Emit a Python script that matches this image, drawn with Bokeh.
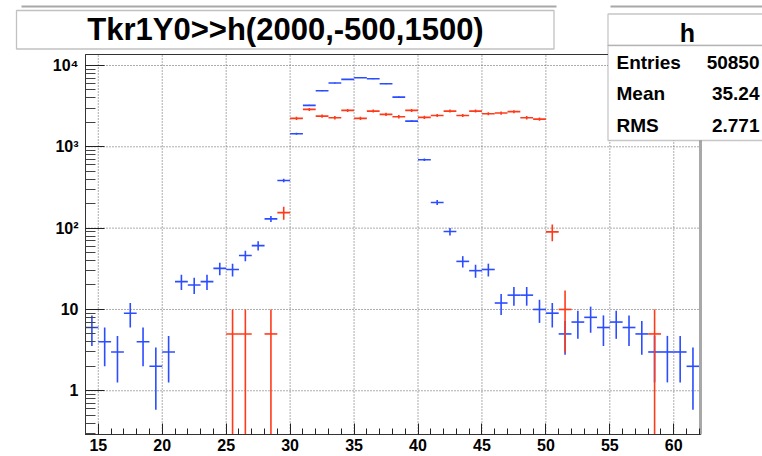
import numpy as np
from bokeh.plotting import figure
from bokeh.models import (FixedTicker, SingleIntervalTicker, Range1d, Label,
                          BoxAnnotation)
from bokeh.embed import file_html
from bokeh.resources import INLINE

# ---------------- data ----------------
blue_x = [14.5, 15.5, 16.5, 17.5, 18.5, 19.5, 20.5, 21.5, 22.5, 23.5, 24.5, 25.5,
          26.5, 27.5, 28.5, 29.5, 30.5, 31.5, 32.5, 33.5, 34.5, 35.5, 36.5, 37.5,
          38.5, 39.5, 40.5, 41.5, 42.5, 43.5, 44.5, 45.5, 46.5, 47.5, 48.5, 49.5,
          50.5, 51.5, 52.5, 53.5, 54.5, 55.5, 56.5, 57.5, 58.5, 59.5, 60.5, 61.5]
blue_y = [6, 4, 3, 9, 4, 2, 3, 22, 20, 22, 32, 31,
          46, 61, 130, 385, 1450, 3230, 4900, 6080, 6745, 7080, 6880, 5970,
          4085, 2070, 694, 207, 91, 39, 30, 31, 12, 15, 15, 10,
          9, 5, 7, 8, 6, 7, 6, 5, 3, 3, 3, 2]

red_x = [25.5, 26.5, 28.5, 29.5, 30.5, 31.5, 32.5, 33.5, 34.5, 35.5, 36.5, 37.5,
         38.5, 39.5, 40.5, 41.5, 42.5, 43.5, 44.5, 45.5, 46.5, 47.5, 48.5, 49.5,
         50.5, 51.5, 58.5]
red_y = [5, 5, 5, 155, 2235, 2885, 2385, 2280, 2805, 2235, 2750, 2505,
         2345, 2805, 2300, 2430, 2750, 2430, 2750, 2555, 2600, 2705, 2280, 2190,
         90, 10, 5]
red_weight = 5

bin_width = 1.0
x_lo, x_hi = 14.0, 62.09          # axis (frame) extent
y_lo, y_hi = 0.29, 13650

x_major = [15, 20, 25, 30, 35, 40, 45, 50, 55, 60]
y_major = [1, 10, 100, 1000, 10000]
y_labels = {1: "1", 10: "10", 100: "10²", 1000: "10³", 10000: "10⁴"}

title_text = "Tkr1Y0>>h(2000,-500,1500)"
stats_name = "h"
stats_keys = ["Entries", "Mean", "RMS"]
stats_vals = ["50850", "35.24", "2.771"]

BLUE = "#2b4cff"
RED = "#ff3a1a"
FONT = "Liberation Sans"

# ---------------- layout: the frame fills the canvas, axes placed inside ----------------
W, H = 762, 456
FL, FR, FT, FB = 85.0, 700.0, 54.0, 434.0   # pixel box of the histogram frame

ppx = (FR - FL) / (x_hi - x_lo)
vx0 = x_lo - FL / ppx
vx1 = x_hi + (W - FR) / ppx
ly_lo, ly_hi = np.log10(y_lo), np.log10(y_hi)
ppy = (FB - FT) / (ly_hi - ly_lo)
vy0 = 10 ** (ly_lo - (H - FB) / ppy)
vy1 = 10 ** (ly_hi + FT / ppy)

p = figure(width=W, height=H, output_backend="svg", toolbar_location=None,
           x_range=Range1d(vx0, vx1), y_range=Range1d(vy0, vy1),
           y_axis_type="log", min_border=0,
           min_border_left=0, min_border_right=0,
           min_border_top=0, min_border_bottom=0,
           background_fill_color="white", border_fill_color="white",
           outline_line_color=None)
p.xgrid.grid_line_color = None
p.ygrid.grid_line_color = None

# grid (dotted), bounded to the frame
p.segment(x0=x_major, x1=x_major, y0=[y_lo] * len(x_major), y1=[y_hi] * len(x_major),
          line_color="#5a5a5a", line_dash="1 2", line_width=1)
p.segment(x0=[x_lo] * len(y_major), x1=[x_hi] * len(y_major), y0=y_major, y1=y_major,
          line_color="#5a5a5a", line_dash="1 2", line_width=1)

# ---------------- histograms ----------------
bx = np.array(blue_x, dtype=float)
by = np.array(blue_y, dtype=float)
be = np.sqrt(by)
p.segment(x0=bx - bin_width / 2, x1=bx + bin_width / 2, y0=by, y1=by,
          line_color=BLUE, line_width=1.6)
p.segment(x0=bx, x1=bx, y0=np.maximum(by - be, y_lo), y1=np.minimum(by + be, y_hi),
          line_color=BLUE, line_width=1.6)

rx = np.array(red_x, dtype=float)
ry = np.array(red_y, dtype=float)
re = np.sqrt(ry * red_weight)
p.segment(x0=rx - bin_width / 2, x1=rx + bin_width / 2, y0=ry, y1=ry,
          line_color=RED, line_width=1.6)
p.segment(x0=rx, x1=rx, y0=np.maximum(ry - re, y_lo), y1=np.minimum(ry + re, y_hi),
          line_color=RED, line_width=1.6)

# frame
p.quad(left=[x_lo], right=[x_hi], bottom=[y_lo], top=[y_hi],
       fill_color=None, line_color="#333333", line_width=1)
p.segment(x0=[x_hi], x1=[x_hi], y0=[y_lo], y1=[y_hi],
          line_color="#a8a8a8", line_width=3)

# ---------------- axes ----------------
xa = p.xaxis[0]
xa.fixed_location = y_lo
xa.bounds = (x_lo, x_hi)
xa.ticker = SingleIntervalTicker(interval=5, num_minor_ticks=5)
xa.major_tick_in = 11
xa.major_tick_out = 0
xa.minor_tick_in = 6
xa.minor_tick_out = 0
xa.major_label_standoff = 4
xa.major_label_text_font = FONT
xa.major_label_text_font_style = "bold"
xa.major_label_text_font_size = "16px"
xa.major_label_text_color = "black"
xa.axis_line_color = "#333333"
xa.major_tick_line_color = "#222222"
xa.minor_tick_line_color = "#222222"

ya = p.yaxis[0]
ya.fixed_location = x_lo
ya.bounds = (y_lo, y_hi)
minor = [k * 10.0 ** e for e in range(-1, 5) for k in range(2, 10)]
minor = [m for m in minor if y_lo <= m <= y_hi]
ya.ticker = FixedTicker(ticks=y_major, minor_ticks=minor)
ya.major_label_overrides = y_labels
ya.major_tick_in = 19
ya.major_tick_out = 0
ya.minor_tick_in = 10
ya.minor_tick_out = 0
ya.major_label_standoff = 7
ya.major_label_text_font = FONT
ya.major_label_text_font_style = "bold"
ya.major_label_text_font_size = "16px"
ya.major_label_text_color = "black"
ya.axis_line_color = "#333333"
ya.major_tick_line_color = "#222222"
ya.minor_tick_line_color = "#444444"

# ---------------- title / stats panes (screen units: x from left, y from bottom) ----------------
def box(l, r, t, b, **kw):
    return BoxAnnotation(left=l, right=r, top=H - t, bottom=H - b,
                         left_units="screen", right_units="screen",
                         top_units="screen", bottom_units="screen", **kw)

def label(x, y, text, size, align):
    return Label(x=x, y=H - y, x_units="screen", y_units="screen", text=text,
                 text_align=align, text_baseline="alphabetic", text_font=FONT,
                 text_font_style="bold", text_font_size=size, text_color="black")

# grey shadow lines above the panes
p.add_layout(box(21, 556, 5, 7, fill_color="#a8a8a8", fill_alpha=1.0, line_color=None))
p.add_layout(box(610, 770, 5, 7, fill_color="#a8a8a8", fill_alpha=1.0, line_color=None))

# title pane
p.add_layout(box(16, 553.5, 10, 48.5, fill_color="white", fill_alpha=1.0,
                 line_color="#333333", line_width=1.3))
p.add_layout(label(285, 29.0, title_text, "31px", "center"))

# stats pane
p.add_layout(box(607.5, 775, 13.5, 45, fill_color="white", fill_alpha=1.0,
                 line_color="#444444", line_width=1.3))
p.add_layout(box(607.5, 775, 45, 140, fill_color="white", fill_alpha=1.0,
                 line_color="#444444", line_width=1.3))
p.add_layout(label(687, 32.5, stats_name, "25px", "center"))
for i, (k, v) in enumerate(zip(stats_keys, stats_vals)):
    base = 62 + i * 31.3
    p.add_layout(label(616, base, k, "19px", "left"))
    p.add_layout(label(759, base, v, "19px", "right"))

open("out.html", "w").write(file_html(p, INLINE))
